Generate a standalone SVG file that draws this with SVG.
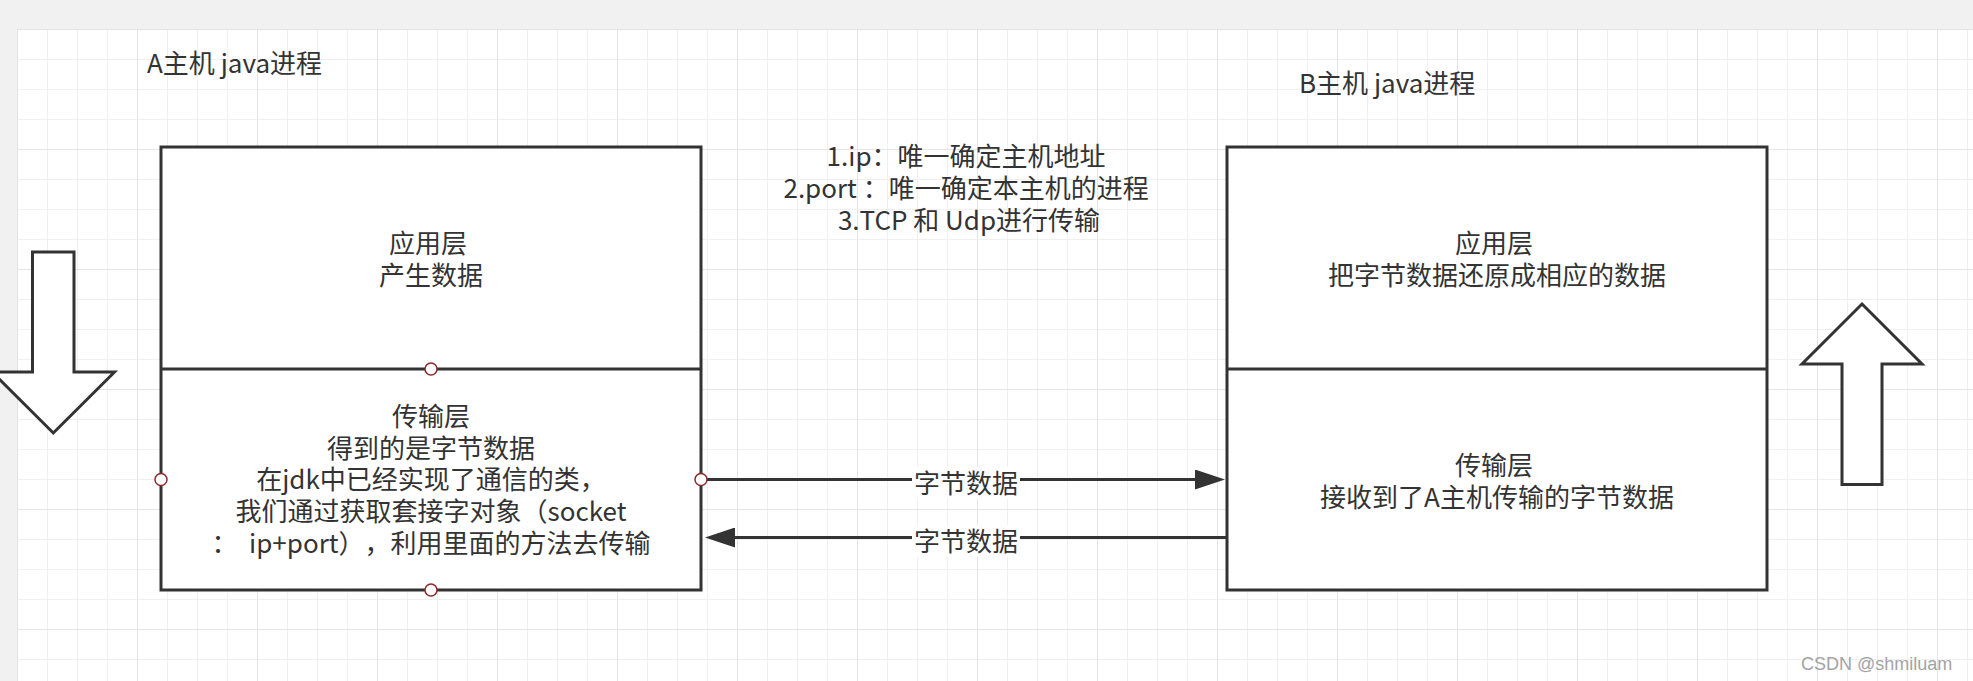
<svg xmlns="http://www.w3.org/2000/svg" width="1973" height="681" viewBox="0 0 1973 681">
  <style>
    .box { fill: #ffffff; stroke: #333333; stroke-width: 3; }
    .sep { fill: none; stroke: #333333; stroke-width: 3; }
    .big-arrow { fill: #ffffff; stroke: #333333; stroke-width: 3; stroke-linejoin: miter; }
    .t { font-family: "Noto Sans CJK SC", "Microsoft YaHei", sans-serif; font-size: 26px; fill: #333333; text-spacing-trim: space-all; }
    .c { text-anchor: middle; }
    .link { fill: none; stroke: #333333; stroke-width: 3; }
    .label-bg { fill: #ffffff; }
    .port { fill: #ffffff; stroke: #8c2a2a; stroke-width: 1.5; }
    .mark { font-family: "Liberation Sans", Arial, sans-serif; font-size: 18px; fill: #a3a3a3; }
  </style>
  <defs>
    <pattern id="gridMinor" patternUnits="userSpaceOnUse" x="17" y="29" width="30" height="30">
      <path d="M0 0.5H30M0.5 0V30" stroke="#f0f0f0" stroke-width="1" fill="none"/>
    </pattern>
    <pattern id="gridMajor" patternUnits="userSpaceOnUse" x="17" y="29" width="120" height="120">
      <path d="M0 0.5H120M0.5 0V120" stroke="#e4e4e4" stroke-width="1" fill="none"/>
    </pattern>
    <marker id="head" viewBox="0 0 30 20" refX="5" refY="10" markerWidth="30" markerHeight="20" markerUnits="userSpaceOnUse" orient="auto">
      <path d="M0 0L30 10L0 20Z" fill="#333333"/>
    </marker>
  </defs>

  <!-- canvas -->
  <rect width="1973" height="681" fill="#f1f1f1"/>
  <rect x="17" y="29" width="1956" height="652" fill="#ffffff"/>
  <rect x="17" y="29" width="1956" height="652" fill="url(#gridMinor)"/>
  <rect x="17" y="29" width="1956" height="652" fill="url(#gridMajor)"/>

  <!-- titles -->
  <g id="title-a">
    <text class="t" x="147" y="73">A主机 java进程</text>
  </g>
  <g id="title-b">
    <text class="t" x="1299" y="93">B主机 java进程</text>
  </g>

  <!-- notes between hosts -->
  <g id="notes">
    <text class="t c">
      <tspan x="969" y="166">1.ip：唯一确定主机地址</tspan>
      <tspan x="969" y="198">2.port ：唯一确定本主机的进程</tspan>
      <tspan x="969" y="230">3.TCP 和 Udp进行传输</tspan>
    </text>
  </g>

  <!-- host A stack -->
  <g id="host-a">
    <rect class="box" x="161" y="147" width="540" height="443"/>
    <line class="sep" x1="161" y1="369" x2="701" y2="369"/>
    <text class="t c">
      <tspan x="431" y="253">应用层</tspan>
      <tspan x="431" y="284.7">产生数据</tspan>
    </text>
    <text class="t c" xml:space="preserve"><tspan x="431" y="426">传输层</tspan><tspan x="431" y="457.7">得到的是字节数据</tspan><tspan x="431" y="489.4">在jdk中已经实现了通信的类，</tspan><tspan x="431" y="521.1">我们通过获取套接字对象（socket</tspan><tspan x="431" y="552.8">：  ip+port），利用里面的方法去传输</tspan></text>
  </g>

  <!-- host B stack -->
  <g id="host-b">
    <rect class="box" x="1227" y="147" width="540" height="443"/>
    <line class="sep" x1="1227" y1="369" x2="1767" y2="369"/>
    <text class="t c">
      <tspan x="1497" y="253">应用层</tspan>
      <tspan x="1497" y="284.7">把字节数据还原成相应的数据</tspan>
    </text>
    <text class="t c">
      <tspan x="1497" y="475">传输层</tspan>
      <tspan x="1497" y="506.7">接收到了A主机传输的字节数据</tspan>
    </text>
  </g>

  <!-- flow direction arrows -->
  <g id="arrow-down">
    <polygon class="big-arrow" points="32.5,252 74,252 74,372 114.5,372 53.3,433 -8,372 32.5,372"/>
  </g>
  <g id="arrow-up">
    <polygon class="big-arrow" points="1862,304 1922,364 1882,364 1882,484.5 1842,484.5 1842,364 1802,364"/>
  </g>

  <!-- connectors -->
  <g id="connectors">
    <path class="link" d="M701 479.5H1200" marker-end="url(#head)"/>
    <path class="link" d="M1226 537.5H730" marker-end="url(#head)"/>
    <rect class="label-bg" x="912" y="467" width="108" height="32"/>
    <text class="t c" x="966" y="493">字节数据</text>
    <rect class="label-bg" x="912" y="525" width="108" height="32"/>
    <text class="t c" x="966" y="551">字节数据</text>
  </g>

  <!-- connection points on host A -->
  <g id="ports-a">
    <circle class="port" cx="431" cy="369" r="6"/>
    <circle class="port" cx="161" cy="479.5" r="6"/>
    <circle class="port" cx="701" cy="479.5" r="6"/>
    <circle class="port" cx="431" cy="590" r="6"/>
  </g>

  <text class="mark" x="1801" y="670">CSDN @shmiluam</text>
</svg>
